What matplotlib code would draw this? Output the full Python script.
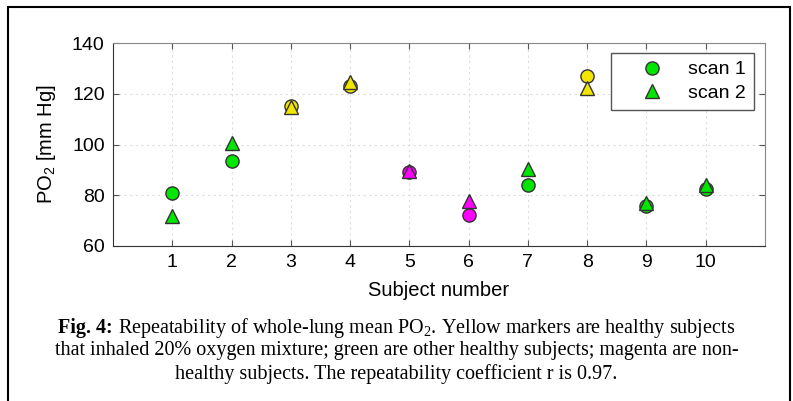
import matplotlib.pyplot as plt
from matplotlib.lines import Line2D
from matplotlib.patches import Rectangle

plt.rcParams["mathtext.fontset"] = "custom"
plt.rcParams["mathtext.rm"] = "Liberation Serif"
plt.rcParams["mathtext.sf"] = "Liberation Sans"

subjects = [1, 2, 3, 4, 5, 6, 7, 8, 9, 10]
scan1 = [80.8, 93.5, 115.3, 123.2, 89.3, 72.3, 84.1, 127.0, 75.6, 82.4]
scan2 = [71.8, 100.6, 114.6, 124.7, 89.6, 77.6, 90.3, 122.4, 76.8, 84.1]
groups = ["g", "g", "y", "y", "m", "m", "g", "y", "g", "g"]
colors = {"g": "#00e600", "y": "#f2e600", "m": "#ff00ff"}

fig = plt.figure(figsize=(7.93, 4.01), dpi=100)
ax = fig.add_axes([113 / 793, 1 - 246 / 401, 652 / 793, 203 / 401])

#Markers
for s, a, b, g in zip(subjects, scan1, scan2, groups):
    ax.plot(s, a, "o", ms=9.5, mfc=colors[g], mec="#333333", mew=1)
    ax.plot(s, b, "^", ms=9.5, mfc=colors[g], mec="#333333", mew=1)

ax.set_xlim(0, 11)
ax.set_ylim(60, 140)
ax.set_xticks(subjects)
ax.set_yticks([60, 80, 100, 120, 140])
ax.grid(True, color="#dddddd", linestyle=(0, (2, 3)), linewidth=0.8)
ax.tick_params(direction="in", top=True, right=True, labelsize=14,
               color="#555555", length=4, pad=6)
for lbl in ax.get_xticklabels() + ax.get_yticklabels():
    lbl.set_fontfamily("Liberation Sans")
for side in ["top", "right"]:
    ax.spines[side].set_color("#888888")
for side in ["left", "bottom"]:
    ax.spines[side].set_color("#333333")

ax.set_xlabel("Subject number", fontsize=14.5, family="Liberation Sans", labelpad=7)
ax.set_ylabel(r"PO$_\mathsf{2}$ [mm Hg]", fontsize=14.5, family="Liberation Sans",
              labelpad=10)

handles = [
    Line2D([], [], marker="o", ls="", ms=9.5, mfc="#00e600", mec="#333333"),
    Line2D([], [], marker="^", ls="", ms=9.5, mfc="#00e600", mec="#333333"),
]
leg = ax.legend(handles, ["scan 1", "scan 2"], loc="upper right",
                bbox_to_anchor=(0.983, 0.951), borderaxespad=0,
                fancybox=False, framealpha=1, edgecolor="#555555",
                handlelength=3.5, handletextpad=0.1, borderpad=0.4,
                labelspacing=0.3, prop={"family": "Liberation Sans", "size": 14})
leg.get_frame().set_linewidth(1)

#Caption
cap = dict(va="center", fontsize=14.5, family="Liberation Serif")
renderer = fig.canvas.get_renderer()
bold = fig.text(0, 1 - 328 / 401, "Fig. 4:", fontweight="bold", ha="left", **cap)
rest = fig.text(0, 1 - 328 / 401,
                r" Repeatability of whole-lung mean PO$_\mathrm{2}$. Yellow markers are healthy subjects",
                ha="left", **cap)
wb = bold.get_window_extent(renderer).width / fig.bbox.width
wr = rest.get_window_extent(renderer).width / fig.bbox.width
x0 = 0.5 - (wb + wr) / 2
bold.set_x(x0)
rest.set_x(x0 + wb)
fig.text(0.5, 1 - 351 / 401,
         "that inhaled 20% oxygen mixture; green are other healthy subjects; magenta are non-",
         ha="center", **cap)
fig.text(0.5, 1 - 374 / 401,
         "healthy subjects. The repeatability coefficient r is 0.97.", ha="center", **cap)

fig.patches.append(Rectangle((8 / 793, -0.05), 782 / 793, 1.05 - 7 / 401,
                             transform=fig.transFigure, fill=False,
                             edgecolor="black", linewidth=1.5))

plt.savefig("out.png", dpi=100)
